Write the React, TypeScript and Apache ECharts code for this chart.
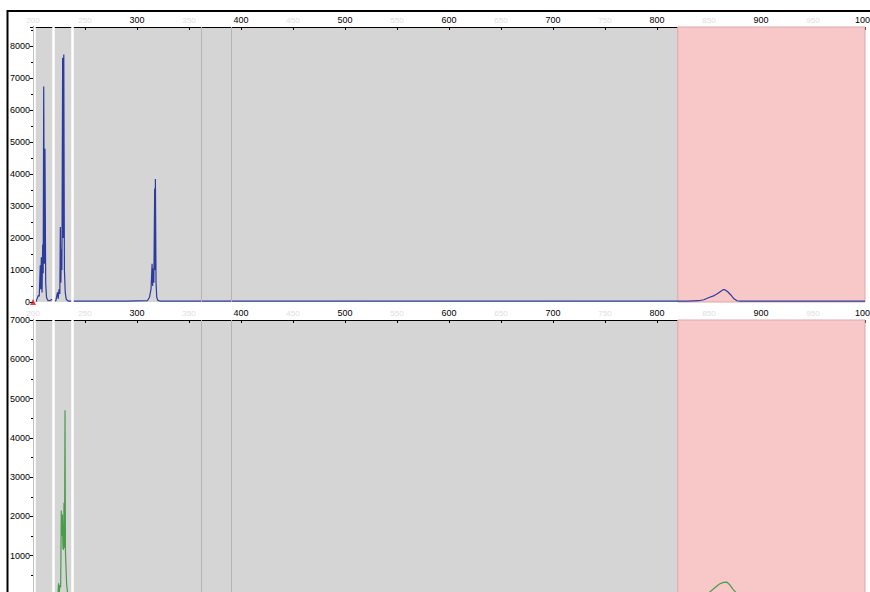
import React, { useEffect, useRef } from "react";
import * as echarts from "echarts";

// Blue trace (top panel)
const blueX = [200, 203, 205, 206, 207, 207.5, 208, 208.7, 209.3, 209.8, 210.3, 211, 211.5, 212.2, 213, 214, 216, 218, 220, 222, 223.5, 224.3, 225, 225.8, 226.3, 226.8, 227.3, 227.8, 228.5, 229, 229.6, 230.2, 231, 232, 234, 260, 290, 310, 312, 313.5, 314.5, 315, 315.5, 316.2, 317, 317.3, 317.7, 318.3, 319, 320, 322, 400, 600, 830, 840, 845, 850, 855, 858, 861, 864, 866, 868, 871, 874, 877, 880, 1000];
const blueY = [0, 20, 200, 180, 1150, 400, 1400, 300, 1800, 900, 6750, 1200, 4800, 600, 150, 60, 40, 80, 30, 40, 300, 100, 400, 250, 2350, 600, 1650, 1000, 7650, 2000, 7750, 1000, 300, 80, 30, 30, 30, 40, 150, 400, 1200, 500, 1050, 600, 3550, 1000, 3850, 600, 150, 50, 30, 30, 30, 30, 40, 70, 140, 200, 260, 330, 390, 370, 320, 220, 100, 40, 30, 30];

// Green trace (bottom panel)
const greenX = [200, 220, 224, 224.6, 225.2, 226, 226.6, 227.2, 227.6, 228.2, 228.8, 229.3, 229.8, 230.3, 230.8, 231.2, 231.7, 232.3, 233, 234, 845, 850, 855, 860, 864, 867, 870, 873, 876, 880, 1000];
const greenY = [0, 0, 20, 300, 50, 250, 200, 2150, 1500, 2050, 1200, 1150, 2350, 1200, 4700, 1100, 1100, 300, 100, 0, 0, 60, 170, 280, 320, 330, 260, 150, 60, 0, 0];

const xMin = 200;
const xMax = 1000;
const xInterval = 50;
const topYMax = 8610;
const bottomYMax = 7000;
const yInterval = 1000;

const whiteStripes = [201, 219, 237.5];
const grayLines = [362, 391];
const pinkRange = [820, 1000];

const FONT = "Liberation Sans, Arial, sans-serif";

function pair(xs: number[], ys: number[]) {
  return xs.map((x, i) => [x, ys[i]]);
}

export default function App() {
  const ref = useRef<HTMLDivElement>(null);
  useEffect(() => {
    if (!ref.current) return;
    const chart = echarts.init(ref.current, null, { renderer: "svg" });

    const xAxisCommon = (gridIndex: number) => ({
      type: "value" as const,
      gridIndex,
      position: "top" as const,
      min: xMin,
      max: xMax,
      interval: xInterval,
      axisLine: { show: true, onZero: false, lineStyle: { color: "#000", width: 1 } },
      axisTick: { show: true, inside: true, length: 3, lineStyle: { color: "#000" } },
      splitLine: { show: false },
      axisLabel: {
        fontSize: 9,
        fontFamily: FONT,
        color: "#000",
        margin: 3,
        hideOverlap: false,
        formatter: (v: number) =>
          v % 100 === 0 && v !== xMin ? String(v) : "{f|" + v + "}",
        rich: { f: { color: "#dedede", fontSize: 8, fontFamily: FONT } },
      },
    });

    const yAxisCommon = (gridIndex: number, max: number) => ({
      type: "value" as const,
      gridIndex,
      min: 0,
      max,
      interval: yInterval,
      axisLine: { show: true, onZero: false, lineStyle: { color: "#000", width: 1 } },
      axisTick: { show: true, length: 3, lineStyle: { color: "#000" } },
      minorTick: { show: true, splitNumber: 2, length: 2, lineStyle: { color: "#000" } },
      splitLine: { show: false },
      axisLabel: {
        fontSize: 9,
        fontFamily: FONT,
        color: "#000",
        margin: 3,
        formatter: (v: number) => (v % 1000 === 0 ? String(v) : ""),
      },
    });

    const decorations = {
      markArea: {
        silent: true,
        itemStyle: { color: "#f8c8c8", borderColor: "#dca8a8", borderWidth: 1 },
        data: [[{ xAxis: pinkRange[0] }, { xAxis: pinkRange[1] }]],
      },
      markLine: {
        silent: true,
        symbol: "none",
        label: { show: false },
        data: [
          ...whiteStripes.map((x) => ({ xAxis: x, lineStyle: { color: "#ffffff", width: 2.5, type: "solid" } })),
          ...grayLines.map((x) => ({ xAxis: x, lineStyle: { color: "#b4b4b4", width: 1, type: "solid" } })),
        ],
      },
    };

    chart.setOption({
      animation: false,
      backgroundColor: "#ffffff",
      grid: [
        { left: 33, top: 27, width: 832, height: 275, show: true, backgroundColor: "#d5d5d5", borderWidth: 0, containLabel: false, outerBoundsMode: "none" },
        { left: 33, top: 320, width: 832, height: 275, show: true, backgroundColor: "#d5d5d5", borderWidth: 0, containLabel: false, outerBoundsMode: "none" },
      ],
      xAxis: [xAxisCommon(0), xAxisCommon(1)],
      yAxis: [yAxisCommon(0, topYMax), yAxisCommon(1, bottomYMax)],
      series: [
        {
          type: "line",
          xAxisIndex: 0,
          yAxisIndex: 0,
          data: pair(blueX, blueY),
          showSymbol: false,
          lineStyle: { color: "#2c3b9c", width: 1.2 },
          ...decorations,
        },
        {
          type: "scatter",
          xAxisIndex: 0,
          yAxisIndex: 0,
          data: [[xMin, 0]],
          symbol: "triangle",
          symbolSize: 6,
          itemStyle: { color: "#e01010" },
          z: 5,
        },
        {
          type: "line",
          xAxisIndex: 1,
          yAxisIndex: 1,
          data: pair(greenX, greenY),
          showSymbol: false,
          lineStyle: { color: "#4a9c4a", width: 1.2 },
          ...decorations,
        },
      ],
      graphic: [
        { type: "line", shape: { x1: 7, y1: 11, x2: 870, y2: 11 }, style: { stroke: "#000", lineWidth: 2 }, z: 100 },
        { type: "line", shape: { x1: 7.5, y1: 10, x2: 7.5, y2: 592 }, style: { stroke: "#000", lineWidth: 2 }, z: 100 },
      ],
    });
    return () => chart.dispose();
  }, []);
  return (
    <div
      ref={ref}
      style={{ position: "fixed", left: 0, top: 0, width: 870, height: 592, background: "#fff" }}
    />
  );
}
